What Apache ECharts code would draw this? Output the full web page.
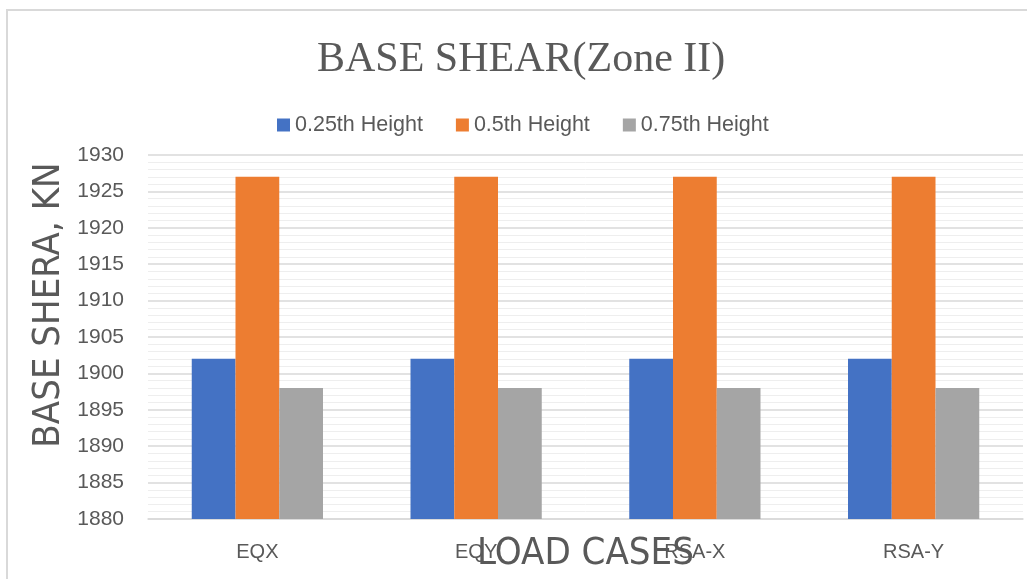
<!DOCTYPE html>
<html>
<head>
<meta charset="utf-8">
<script src="https://cdn.jsdelivr.net/npm/echarts@6/dist/echarts.min.js"></script>
<style>
  html, body { margin: 0; padding: 0; background: #fff; }
  #chart { width: 1027px; height: 579px; }
</style>
</head>
<body>
<div id="chart"></div>
<script>
const categories = ['EQX', 'EQY', 'RSA-X', 'RSA-Y'];
const height025 = [1902, 1902, 1902, 1902];
const height05 = [1927, 1927, 1927, 1927];
const height075 = [1898, 1898, 1898, 1898];

const narrow = "'DejaVu Sans Condensed', 'Liberation Sans', sans-serif";
const sans = "'Liberation Sans', Arial, sans-serif";
const grey = '#595959';

const chart = echarts.init(document.getElementById('chart'));

chart.setOption({
  animation: false,
  backgroundColor: '#fff',
  graphic: [{
    type: 'rect',
    shape: { x: 7, y: 10, width: 1100, height: 700 },
    style: { fill: 'none', stroke: '#d9d9d9', lineWidth: 2 },
    silent: true
  }],
  title: {
    text: 'BASE SHEAR(Zone II)',
    left: 312,
    top: 34,
    textStyle: {
      fontFamily: "'Liberation Serif', 'Times New Roman', serif",
      fontSize: 42,
      fontWeight: 'normal',
      color: grey
    }
  },
  legend: {
    left: 272,
    top: 109,
    itemWidth: 13,
    itemHeight: 13,
    itemGap: 33,
    icon: 'rect',
    textStyle: { fontFamily: sans, fontSize: 21.5, color: grey },
    data: ['0.25th Height', '0.5th Height', '0.75th Height']
  },
  grid: { left: 148, right: 4, top: 155, bottom: 60, containLabel: false, outerBoundsMode: 'none' },
  xAxis: {
    type: 'category',
    data: categories,
    name: 'LOAD CASES',
    nameLocation: 'middle',
    nameGap: 16,
    nameMoveOverlap: false,
    nameTextStyle: { fontFamily: narrow, fontSize: 38, color: grey },
    axisLine: { show: true, lineStyle: { color: '#d9d9d9', width: 1.5 } },
    axisTick: { show: false },
    axisLabel: { fontFamily: sans, fontSize: 20, color: grey, margin: 23 }
  },
  yAxis: {
    type: 'value',
    min: 1880,
    max: 1930,
    interval: 5,
    name: 'BASE SHERA, KN',
    nameLocation: 'middle',
    nameGap: 80,
    nameMoveOverlap: false,
    nameTextStyle: { fontFamily: narrow, fontSize: 38, color: grey, padding: [0, 0, 0, 64] },
    axisLine: { show: false },
    axisTick: { show: false },
    axisLabel: { fontFamily: sans, fontSize: 21, color: grey, margin: 24, formatter: v => String(v) },
    splitLine: { lineStyle: { color: '#d9d9d9', width: 1.5 } },
    minorTick: { show: false, splitNumber: 5 },
    minorSplitLine: { show: true, lineStyle: { color: '#eeeeee', width: 1 } }
  },
  series: [
    {
      name: '0.25th Height', type: 'bar', data: height025,
      barGap: '0%', barCategoryGap: '40%',
      itemStyle: { color: '#4472C4' }
    },
    {
      name: '0.5th Height', type: 'bar', data: height05,
      barGap: '0%', barCategoryGap: '40%',
      itemStyle: { color: '#ED7D31' }
    },
    {
      name: '0.75th Height', type: 'bar', data: height075,
      barGap: '0%', barCategoryGap: '40%',
      itemStyle: { color: '#A5A5A5' }
    }
  ]
});
</script>
</body>
</html>
